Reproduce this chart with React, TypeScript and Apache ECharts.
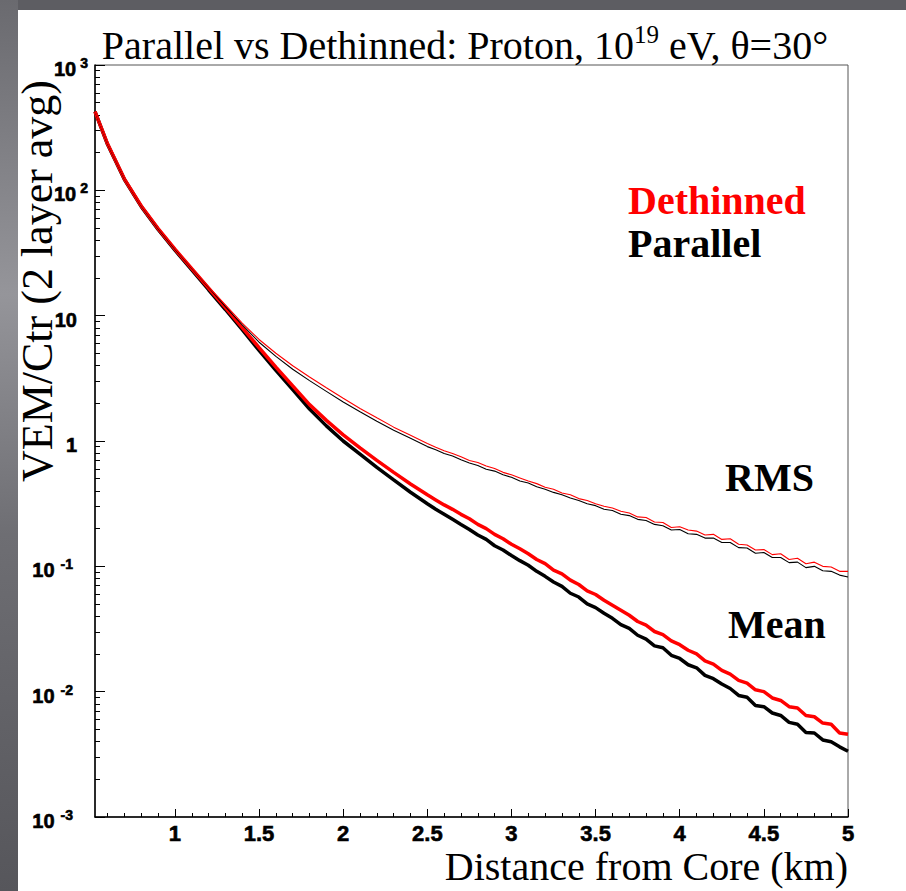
import React, { useEffect, useRef } from "react";
import * as echarts from "echarts";

// Distance from core (km)
const DIST = [
  0.525, 0.6, 0.7, 0.8, 0.9, 1.0, 1.1, 1.2, 1.3, 1.4, 1.5, 1.6, 1.7, 1.8, 1.9, 2.0, 2.1, 2.2, 2.3, 2.4,
  2.5, 2.55, 2.6, 2.65, 2.7, 2.75, 2.8, 2.85, 2.9, 2.95,
  3.0, 3.05, 3.1, 3.15, 3.2, 3.25, 3.3, 3.35, 3.4, 3.45,
  3.5, 3.55, 3.6, 3.65, 3.7, 3.75, 3.8, 3.85, 3.9, 3.95,
  4.0, 4.05, 4.1, 4.15, 4.2, 4.25, 4.3, 4.35, 4.4, 4.45,
  4.5, 4.55, 4.6, 4.65, 4.7, 4.75, 4.8, 4.85, 4.9, 4.95, 5.0,
];

const MEAN_DETHINNED = [
  425, 234, 123, 75.0, 49.5, 33.9, 23.7, 16.6, 11.6, 8.04, 5.56, 3.89, 2.75, 1.95, 1.46, 1.12, 0.881, 0.7, 0.562, 0.454,
  0.372, 0.339, 0.309, 0.285, 0.26, 0.24, 0.216, 0.2, 0.18, 0.166,
  0.15, 0.138, 0.126, 0.1135, 0.105, 0.0933, 0.0871, 0.0776, 0.0716, 0.0638,
  0.0596, 0.0537, 0.049, 0.0447, 0.0407, 0.0363, 0.0339, 0.0302, 0.0285, 0.0254,
  0.0237, 0.0214, 0.02, 0.0176, 0.0166, 0.0148, 0.0138, 0.0123, 0.0117, 0.01035,
  0.01, 0.00891, 0.00851, 0.00759, 0.00741, 0.00646, 0.00631, 0.00562, 0.0055, 0.00468, 0.00457,
];

const MEAN_PARALLEL = [
  425, 232, 122, 74.1, 48.8, 33.3, 23.2, 16.1, 11.2, 7.72, 5.28, 3.66, 2.57, 1.8, 1.32, 1.0, 0.785, 0.617, 0.49, 0.39,
  0.316, 0.285, 0.26, 0.237, 0.216, 0.197, 0.178, 0.164, 0.146, 0.135,
  0.122, 0.111, 0.102, 0.0912, 0.0832, 0.075, 0.0692, 0.061, 0.0569, 0.0501,
  0.0468, 0.0422, 0.0385, 0.0343, 0.032, 0.0282, 0.0263, 0.0232, 0.0224, 0.0195,
  0.0184, 0.0164, 0.0155, 0.0135, 0.0127, 0.0115, 0.0106, 0.00933, 0.00902, 0.00776,
  0.00759, 0.00676, 0.00646, 0.00569, 0.0055, 0.00473, 0.00468, 0.00412, 0.00398, 0.00363, 0.00335,
];

const RMS_DETHINNED = [
  427, 236, 124, 75.9, 50.1, 34.4, 24.1, 17.0, 12.2, 8.71, 6.46, 5.01, 3.98, 3.24, 2.66, 2.19, 1.82, 1.53, 1.29, 1.11,
  0.955, 0.891, 0.836, 0.794, 0.75, 0.7, 0.673, 0.631, 0.603, 0.562,
  0.537, 0.507, 0.479, 0.457, 0.427, 0.412, 0.385, 0.372, 0.347, 0.335,
  0.316, 0.302, 0.292, 0.275, 0.266, 0.248, 0.245, 0.226, 0.224, 0.204,
  0.207, 0.195, 0.191, 0.178, 0.18, 0.164, 0.166, 0.15, 0.148, 0.135,
  0.136, 0.124, 0.126, 0.1135, 0.116, 0.105, 0.108, 0.1, 0.0989, 0.0912, 0.0912,
];

const RMS_PARALLEL = [
  425, 234, 123, 75.0, 49.5, 34.0, 23.8, 16.8, 11.8, 8.43, 6.14, 4.73, 3.74, 3.03, 2.49, 2.05, 1.71, 1.44, 1.22, 1.05,
  0.902, 0.851, 0.794, 0.759, 0.708, 0.668, 0.638, 0.596, 0.575, 0.537,
  0.513, 0.479, 0.462, 0.432, 0.412, 0.389, 0.372, 0.351, 0.335, 0.316,
  0.305, 0.285, 0.279, 0.26, 0.254, 0.237, 0.232, 0.216, 0.211, 0.195,
  0.197, 0.182, 0.18, 0.168, 0.168, 0.155, 0.155, 0.141, 0.14, 0.127,
  0.129, 0.1175, 0.1175, 0.107, 0.108, 0.0977, 0.1, 0.0923, 0.0912, 0.0851, 0.0822,
];

const X_MIN = 0.525;
const X_MAX = 5;
const X_MAJOR = [1, 1.5, 2, 2.5, 3, 3.5, 4, 4.5, 5];
const X_MINOR = [
  0.6, 0.7, 0.8, 0.9, 1.1, 1.2, 1.3, 1.4, 1.6, 1.7, 1.8, 1.9, 2.1, 2.2, 2.3, 2.4,
  2.6, 2.7, 2.8, 2.9, 3.1, 3.2, 3.3, 3.4, 3.6, 3.7, 3.8, 3.9, 4.1, 4.2, 4.3, 4.4,
  4.6, 4.7, 4.8, 4.9,
];
const Y_MAJOR = [0.001, 0.01, 0.1, 1, 10, 100, 1000];
const Y_MINOR_MULT = [2, 3, 4, 5, 6, 7, 8, 9];

const TITLE = "Parallel vs Dethinned: Proton, 10";
const TITLE_SUP = "19";
const TITLE_END = " eV, θ=30°";
const Y_NAME = "VEM/Ctr (2 layer avg)";
const X_NAME = "Distance from Core (km)";

const pairs = (ys: number[]) => DIST.map((x, i) => [x, ys[i]]);

export default function App() {
  const ref = useRef<HTMLDivElement>(null);

  useEffect(() => {
    if (!ref.current) return;
    const chart = echarts.init(ref.current, null, { renderer: "svg" });

    const yMinor: number[] = [];
    for (let e = -3; e < 3; e++) {
      for (const m of Y_MINOR_MULT) yMinor.push(Number((m * Math.pow(10, e)).toPrecision(3)));
    }

    const sans = "'Liberation Sans Narrow', 'Liberation Sans', sans-serif";
    const serif = "'Liberation Serif', serif";
    const heavy = { textBorderColor: "#000", textBorderWidth: 0.6 };

    const yLabelFmt = (v: number) => {
      const e = Math.round(Math.log10(v));
      if (e === 0) return "{one|1}";
      if (e === 1) return "{one|10}";
      if (e > 1) return `{b|10}{e|${e}}`;
      return `{b|10}{en|${e}}`;
    };

    const option: any = {
      animation: false,
      backgroundColor: "#5d5d62",
      grid: {
        left: 95,
        top: 65,
        right: 58,
        bottom: 74,
        show: true,
        borderColor: "#555",
        borderWidth: 1,
        backgroundColor: "#fff",
        outerBoundsMode: "none",
      },
      graphic: [
        {
          type: "rect",
          z: -10,
          shape: { x: 0, y: 0, width: 18, height: 891 },
          style: {
            fill: new echarts.graphic.LinearGradient(0, 0, 0, 1, [
              { offset: 0, color: "#6a6a6f" },
              { offset: 0.33, color: "#95959a" },
              { offset: 0.6, color: "#6e6e73" },
              { offset: 1, color: "#56565b" },
            ]),
          },
        },
        {
          type: "rect",
          z: -10,
          shape: { x: 18, y: 10, width: 888, height: 881 },
          style: { fill: "#ffffff" },
        },
        {
          type: "text",
          x: 465,
          y: 42,
          style: {
            text: `{t|${TITLE}}{s|${TITLE_SUP}}{t|${TITLE_END}}`,
            align: "center",
            verticalAlign: "middle",
            fill: "#000",
            rich: {
              t: { fontFamily: serif, fontSize: 40, lineHeight: 40, padding: [6, 0, 0, 0], fill: "#000" },
              s: { fontFamily: serif, fontSize: 25, lineHeight: 25, verticalAlign: "top", fill: "#000" },
            },
          },
        },
        {
          type: "text",
          x: 37,
          y: 80,
          rotation: Math.PI / 2,
          style: {
            text: Y_NAME,
            fontFamily: serif,
            fontSize: 44,
            align: "right",
            verticalAlign: "middle",
            fill: "#000",
          },
        },
        {
          type: "text",
          x: 848,
          y: 866,
          style: {
            text: X_NAME,
            fontFamily: serif,
            fontSize: 40,
            align: "right",
            verticalAlign: "middle",
            fill: "#000",
          },
        },
        {
          type: "text",
          x: 628,
          y: 200,
          style: { text: "Dethinned", fontFamily: serif, fontWeight: "bold", fontSize: 40, fill: "#ff0000", verticalAlign: "middle" },
        },
        {
          type: "text",
          x: 628,
          y: 243,
          style: { text: "Parallel", fontFamily: serif, fontWeight: "bold", fontSize: 40, fill: "#000", verticalAlign: "middle" },
        },
        {
          type: "text",
          x: 725,
          y: 477,
          style: { text: "RMS", fontFamily: serif, fontWeight: "bold", fontSize: 40, fill: "#000", verticalAlign: "middle" },
        },
        {
          type: "text",
          x: 728,
          y: 624,
          style: { text: "Mean", fontFamily: serif, fontWeight: "bold", fontSize: 40, fill: "#000", verticalAlign: "middle" },
        },
      ],
      xAxis: [
        {
          type: "value",
          min: X_MIN,
          max: X_MAX,
          position: "bottom",
          axisLine: { show: true, lineStyle: { color: "#000", width: 1.5 } },
          axisTick: { show: true, inside: true, length: 8, customValues: X_MAJOR, lineStyle: { color: "#000", width: 1 } },
          axisLabel: {
            show: true,
            customValues: X_MAJOR,
            margin: 5,
            fontFamily: sans,
            fontWeight: "bold",
            fontSize: 22,
            color: "#000",
            ...heavy,
          },
          splitLine: { show: false },
        },
        {
          type: "value",
          min: X_MIN,
          max: X_MAX,
          position: "bottom",
          axisLine: { show: false },
          axisTick: { show: true, inside: true, length: 4, customValues: X_MINOR, lineStyle: { color: "#000", width: 1 } },
          axisLabel: { show: false },
          splitLine: { show: false },
        },
      ],
      yAxis: [
        {
          type: "log",
          logBase: 10,
          min: 0.001,
          max: 1000,
          position: "left",
          axisLine: { show: true, lineStyle: { color: "#000", width: 1.5 } },
          axisTick: { show: true, inside: true, length: 10, customValues: Y_MAJOR, lineStyle: { color: "#000", width: 1 } },
          axisLabel: {
            show: true,
            customValues: Y_MAJOR,
            margin: 7,
            formatter: yLabelFmt,
            color: "#000",
            rich: {
              b: { fontFamily: sans, fontWeight: "bold", fontSize: 20, lineHeight: 18, padding: [8, 0, 0, 0], color: "#000", ...heavy },
              one: { fontFamily: sans, fontWeight: "bold", fontSize: 20, lineHeight: 18, padding: [8, 11, 0, 0], color: "#000", ...heavy },
              e: { fontFamily: sans, fontWeight: "bold", fontSize: 14, lineHeight: 14, verticalAlign: "top", padding: [0, 0, 0, 4], color: "#000", ...heavy },
              en: { fontFamily: sans, fontWeight: "bold", fontSize: 14, lineHeight: 14, verticalAlign: "top", padding: [0, 15, 0, 6], color: "#000", ...heavy },
            },
          },
          splitLine: { show: false },
        },
        {
          type: "log",
          logBase: 10,
          min: 0.001,
          max: 1000,
          position: "left",
          axisLine: { show: false },
          axisTick: { show: true, inside: true, length: 5, customValues: yMinor, lineStyle: { color: "#000", width: 1 } },
          axisLabel: { show: false },
          splitLine: { show: false },
        },
      ],
      series: [
        {
          name: "Mean Parallel",
          type: "line",
          data: pairs(MEAN_PARALLEL),
          showSymbol: false,
          symbol: "none",
          lineStyle: { color: "#000", width: 3.5 },
          z: 2,
        },
        {
          name: "Mean Dethinned",
          type: "line",
          data: pairs(MEAN_DETHINNED),
          showSymbol: false,
          symbol: "none",
          lineStyle: { color: "#ff0000", width: 3.5 },
          z: 3,
        },
        {
          name: "RMS Parallel",
          type: "line",
          data: pairs(RMS_PARALLEL),
          showSymbol: false,
          symbol: "none",
          lineStyle: { color: "#000", width: 1.1 },
          z: 4,
        },
        {
          name: "RMS Dethinned",
          type: "line",
          data: pairs(RMS_DETHINNED),
          showSymbol: false,
          symbol: "none",
          lineStyle: { color: "#ff0000", width: 1.1 },
          z: 5,
        },
      ],
    };

    chart.setOption(option);
    return () => chart.dispose();
  }, []);

  return (
    <div style={{ position: "fixed", left: 0, top: 0, width: 906, height: 891 }}>
      <div ref={ref} style={{ width: 906, height: 891 }} />
    </div>
  );
}
